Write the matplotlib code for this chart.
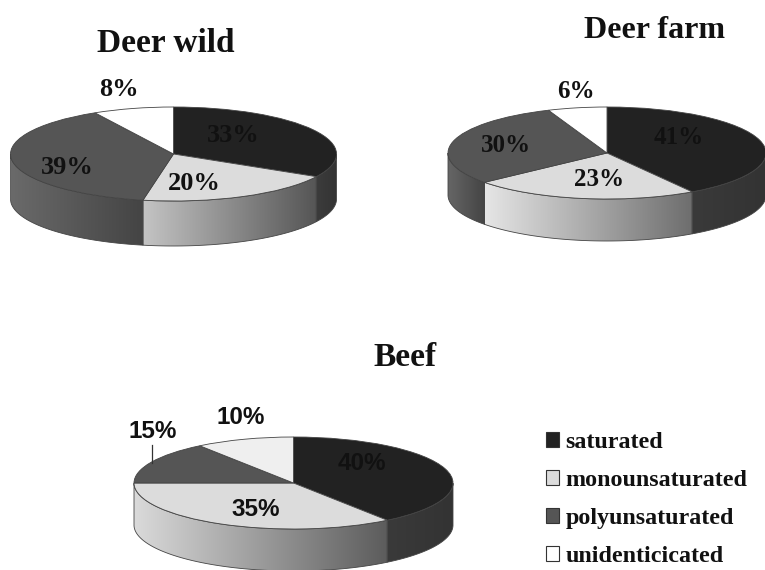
import numpy as np
import matplotlib
matplotlib.use('Agg')
import matplotlib.pyplot as plt
from matplotlib.colors import LinearSegmentedColormap
from matplotlib.lines import Line2D
from matplotlib.patches import Patch

W, H = 765, 570
SERIF = 'Liberation Serif'
SANS = 'Liberation Sans'

fractions = ['saturated', 'monounsaturated', 'polyunsaturated', 'unidenticicated']
deer_wild = [33, 20, 39, 8]
deer_farm = [41, 23, 30, 6]
beef = [40, 35, 15, 10]

top_colors = ['#222222', '#dcdcdc', '#555555', '#ffffff']
beef_top_colors = ['#222222', '#dcdcdc', '#555555', '#efefef']
legend_colors = ['#222222', '#dcdcdc', '#555555', '#ffffff']

# wall shading, left to right, one pair per slice
wild_walls = [('#3c3c3c', '#333333'), ('#c4c4c4', '#555555'), ('#6a6a6a', '#444444'), ('#ffffff', '#ffffff')]
farm_walls = [('#3a3a3a', '#333333'), ('#e6e6e6', '#6e6e6e'), ('#666666', '#444444'), ('#ffffff', '#ffffff')]
beef_walls = [('#3a3a3a', '#333333'), ('#dadada', '#5c5c5c'), ('#555555', '#555555'), ('#efefef', '#efefef')]


def pie3d(values, colors, walls, cx, cy, rx, ry, depth):
    # one axes per pie, stretched so the unit circle comes out as an ellipse
    left = (cx - rx) / W
    bottom = 1 - (cy + ry + depth) / H
    ax = plt.gcf().add_axes([left, bottom, 2 * rx / W, (2 * ry + depth) / H])
    wedges, _ = ax.pie(values, colors=colors, startangle=90, counterclock=False,
                       wedgeprops=dict(edgecolor='#444444', linewidth=0.6, clip_on=False))
    d = depth / ry
    for w, (c0, c1) in zip(wedges, walls):
        t = np.radians(np.linspace(w.theta1, w.theta2, 400))
        t = t[np.sin(t) <= 0]
        if len(t) < 2:
            continue
        x = np.cos(t)
        y = np.sin(t)
        poly = ax.fill(np.r_[x, x[::-1]], np.r_[y, y[::-1] - d],
                       facecolor='none', edgecolor='#444444', linewidth=0.6,
                       clip_on=False, zorder=0.5)[0]
        cmap = LinearSegmentedColormap.from_list('wall', [c0, c1])
        im = ax.imshow(np.linspace(0, 1, 256).reshape(1, -1), cmap=cmap, aspect='auto',
                       extent=[x.min(), x.max(), -1 - d, 0], zorder=0.2)
        im.set_clip_path(poly)
    ax.set_aspect('auto')
    ax.set_xlim(-1, 1)
    ax.set_ylim(-1 - d, 1)
    ax.axis('off')
    return ax


def label(x, y, s, size, family=SERIF, color='#111111'):
    plt.gcf().text(x / W, 1 - y / H, s, fontsize=size, family=family, fontweight='bold',
                   color=color, ha='center', va='center')


fig = plt.figure(figsize=(W / 100, H / 100), dpi=100, facecolor='white')

pie3d(deer_wild, top_colors, wild_walls, 173.5, 154, 163, 47, 45)
pie3d(deer_farm, top_colors, farm_walls, 607, 153, 159, 46, 42)
pie3d(beef, beef_top_colors, beef_walls, 293.5, 483, 159.5, 46, 42)

# titles
label(166, 43, 'Deer wild', 24)
label(655, 31, 'Deer farm', 23)
label(405, 358, 'Beef', 24)

# percent labels
for (x, y), v in zip([(233, 135), (194, 184), (67, 167), (119, 89)], deer_wild):
    label(x, y, f'{v}%', 19)
for (x, y), v in zip([(679, 137), (599, 180), (506, 145), (576, 91)], deer_farm):
    label(x, y, f'{v}%', 18)
for (x, y), v in zip([(362, 464), (256, 510), (153, 431), (241, 418)], beef):
    label(x, y, f'{v}%', 17.5, family=SANS)

# leader for the 15% label
fig.add_artist(Line2D([152 / W, 152 / W], [1 - 445 / H, 1 - 463 / H], color='#333333', linewidth=0.9))

handles = [Patch(facecolor=c, edgecolor='#333333', linewidth=0.8) for c in legend_colors]
fig.legend(handles, fractions, loc='upper left', bbox_to_anchor=(546 / W, 1 - 432 / H),
           bbox_transform=fig.transFigure, frameon=False, borderpad=0, borderaxespad=0,
           handlelength=0.55, handleheight=0.6, handletextpad=0.27, labelspacing=0.7,
           prop=dict(family=SERIF, weight='bold', size=17.3), labelcolor='#111111')

fig.savefig('out.png', dpi=100)
